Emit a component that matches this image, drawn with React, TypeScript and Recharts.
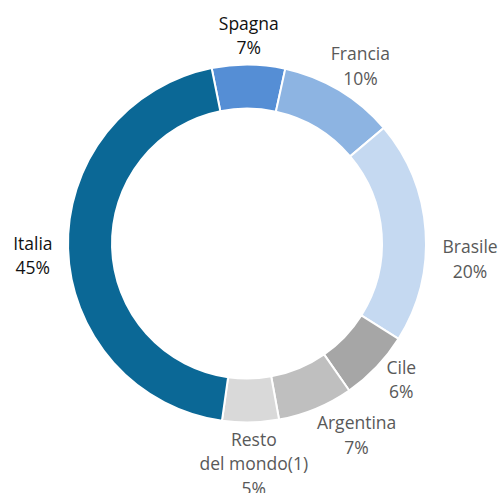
import { PieChart, Pie, Cell } from "recharts";

const countries = ["Spagna", "Francia", "Brasile", "Cile", "Argentina", "Resto\ndel mondo(1)", "Italia"];
const shares = [6.6, 10.4, 20.1, 6.4, 6.8, 5.1, 44.6];
const colors = ["#558ed5", "#8db4e2", "#c5d9f1", "#a6a6a6", "#bfbfbf", "#d9d9d9", "#0b6896"];
const labelColors = ["#111111", "#595959", "#595959", "#595959", "#595959", "#595959", "#111111"];
// small label nudges, like Excel's best-fit placement
const labelNudge = [
  [0, 5],
  [0, 5],
  [4, 30],
  [5, -12],
  [22, -6],
  [2, -6],
  [1, 5],
];

const data = countries.map((name, i) => ({ name, value: shares[i] }));

const FONT = "'Open Sans', Roboto, sans-serif";
const FS = 17.5;
const LH = 24.5;
const RAD = Math.PI / 180;

function renderLabel(props: any) {
  const { cx, cy, midAngle, outerRadius, index, value, name } = props;
  const lines = [...String(name).split("\n"), `${Math.round(value)}%`];
  const w = Math.max(...lines.map((l) => l.length)) * FS * 0.5;
  const h = lines.length * LH;
  const cos = Math.cos(-midAngle * RAD);
  const sin = Math.sin(-midAngle * RAD);
  const r = outerRadius + 10;
  const bx = cx + r * cos + (cos * w) / 2 + labelNudge[index][0];
  const by = cy + r * sin + (sin * h) / 2 + labelNudge[index][1];
  const top = by - h / 2 + LH / 2;
  return (
    <text
      x={bx}
      y={top}
      textAnchor="middle"
      dominantBaseline="central"
      fill={labelColors[index]}
      fontFamily={FONT}
      fontSize={FS}
    >
      {lines.map((l, i) => (
        <tspan key={i} x={bx} y={top + i * LH}>
          {l}
        </tspan>
      ))}
    </text>
  );
}

export default function App() {
  return (
    <div style={{ position: "absolute", left: 0, top: 0, width: 503, height: 493, background: "#fff" }}>
      <PieChart width={503} height={493} margin={{ top: 0, right: 0, bottom: 0, left: 0 }}>
        <Pie
          data={data}
          dataKey="value"
          nameKey="name"
          cx={247}
          cy={243.5}
          innerRadius={135}
          outerRadius={179}
          startAngle={101.4}
          endAngle={-258.6}
          stroke="#ffffff"
          strokeWidth={2}
          label={renderLabel}
          labelLine={false}
          isAnimationActive={false}
        >
          {data.map((d, i) => (
            <Cell key={d.name} fill={colors[i]} />
          ))}
        </Pie>
      </PieChart>
    </div>
  );
}
